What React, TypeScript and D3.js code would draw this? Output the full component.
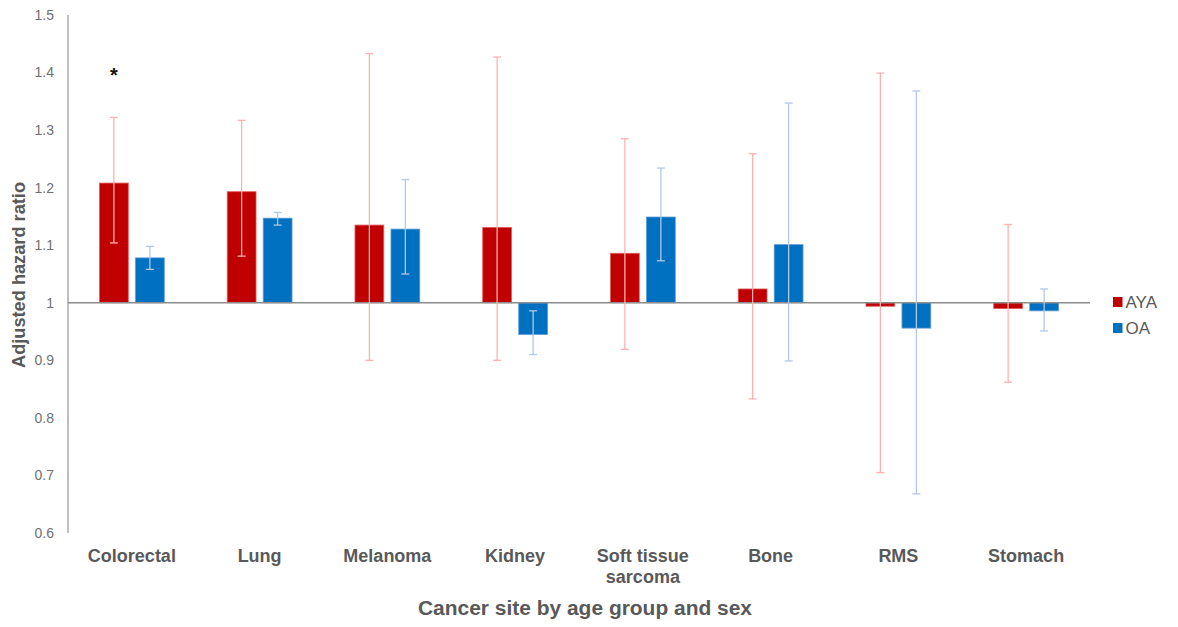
import React from "react";
import * as d3 from "d3";

// Adjusted hazard ratios by cancer site, AYA vs OA, with 95% CI
const categories = ["Colorectal", "Lung", "Melanoma", "Kidney", "Soft tissue|sarcoma", "Bone", "RMS", "Stomach"];
const series = ["AYA", "OA"];
const ayaValues = [1.208, 1.193, 1.135, 1.131, 1.086, 1.024, 0.994, 0.99];
const ayaLow = [1.104, 1.081, 0.9, 0.9, 0.919, 0.833, 0.705, 0.862];
const ayaHigh = [1.322, 1.317, 1.433, 1.427, 1.285, 1.259, 1.399, 1.136];
const oaValues = [1.078, 1.147, 1.128, 0.945, 1.149, 1.101, 0.956, 0.986];
const oaLow = [1.058, 1.135, 1.05, 0.91, 1.073, 0.899, 0.668, 0.951];
const oaHigh = [1.098, 1.157, 1.214, 0.986, 1.234, 1.347, 1.368, 1.024];
const yTicks = [0.6, 0.7, 0.8, 0.9, 1, 1.1, 1.2, 1.3, 1.4, 1.5];
const significant = ["Colorectal"];

const W = 1178;
const H = 627;
const left = 68;
const right = 1090;
const top = 15;
const bottom = 533;

const barFill = { AYA: "#c00000", OA: "#0070c0" };
const barEdge = { AYA: "#e35b5b", OA: "#5b9bd5" };
const errColor = { AYA: "#ffb0b0", OA: "#b4c7e7" };

const font = "'Liberation Sans', Arial, sans-serif";

export default function App() {
  const x = d3.scaleBand().domain(categories).range([left, right]).padding(0);
  const inner = d3.scaleBand().domain(series).range([-32.4, 32.4]).paddingInner(0.2);
  const y = d3.scaleLinear().domain([0.6, 1.5]).range([bottom, top]);

  const rows = categories.map((c, i) => ({
    cat: c,
    AYA: { v: ayaValues[i], lo: ayaLow[i], hi: ayaHigh[i] },
    OA: { v: oaValues[i], lo: oaLow[i], hi: oaHigh[i] },
  }));

  const bw = inner.bandwidth();
  const cap = 4;

  return (
    <div style={{ margin: -8 }}>
      <svg width={W} height={H} style={{ display: "block", background: "#fff" }} fontFamily={font}>
        {/* bars */}
        {rows.map((r) =>
          series.map((s) => {
            const d = r[s];
            const cx = x(r.cat) + x.bandwidth() / 2 + inner(s);
            const y0 = y(1);
            const y1 = y(d.v);
            return (
              <rect
                key={r.cat + s}
                x={cx}
                y={Math.min(y0, y1)}
                width={bw}
                height={Math.abs(y1 - y0)}
                fill={barFill[s]}
                stroke={barEdge[s]}
                strokeWidth={0.8}
              />
            );
          })
        )}

        {/* baseline at HR = 1 */}
        <line x1={left} x2={right} y1={y(1)} y2={y(1)} stroke="#8c8c8c" strokeWidth={1.5} />

        {/* error bars */}
        {rows.map((r) =>
          series.map((s) => {
            const d = r[s];
            const mx = x(r.cat) + x.bandwidth() / 2 + inner(s) + bw / 2;
            return (
              <g key={"e" + r.cat + s} stroke={errColor[s]} strokeWidth={1.3}>
                <line x1={mx} x2={mx} y1={y(d.lo)} y2={y(d.hi)} />
                <line x1={mx - cap} x2={mx + cap} y1={y(d.lo)} y2={y(d.lo)} />
                <line x1={mx - cap} x2={mx + cap} y1={y(d.hi)} y2={y(d.hi)} />
              </g>
            );
          })
        )}

        {/* significance marker */}
        {significant.map((c) => {
          const mx = x(c) + x.bandwidth() / 2 + inner("AYA") + bw / 2;
          return (
            <text key={"s" + c} x={mx} y={y(1.4) + 9} textAnchor="middle" fontSize={20} fontWeight="bold" fill="#111">
              *
            </text>
          );
        })}

        {/* y axis */}
        <line x1={left} x2={left} y1={top} y2={bottom} stroke="#7f7f7f" strokeWidth={1} />
        {yTicks.map((t) => (
          <text key={t} x={54} y={y(t)} dy="0.35em" textAnchor="end" fontSize={14} fill="#707070">
            {String(t)}
          </text>
        ))}
        <text
          transform={`translate(25,${275}) rotate(-90)`}
          textAnchor="middle"
          fontSize={18}
          fontWeight="bold"
          fill="#595959"
          textLength={186}
          lengthAdjust="spacingAndGlyphs"
        >
          Adjusted hazard ratio
        </text>

        {/* x labels */}
        {categories.map((c) => {
          const lines = c.split("|");
          const cx = x(c) + x.bandwidth() / 2;
          return (
            <text key={"x" + c} x={cx} y={562} textAnchor="middle" fontSize={18} fontWeight="bold" fill="#595959">
              {lines.map((l, i) => (
                <tspan key={l} x={cx} dy={i === 0 ? 0 : 21}>
                  {l}
                </tspan>
              ))}
            </text>
          );
        })}
        <text
          x={585}
          y={615}
          textAnchor="middle"
          fontSize={20}
          fontWeight="bold"
          fill="#595959"
          textLength={334}
          lengthAdjust="spacingAndGlyphs"
        >
          Cancer site by age group and sex
        </text>

        {/* legend */}
        {series.map((s, i) => (
          <g key={"l" + s} transform={`translate(1113,${297 + i * 26})`}>
            <rect width={9.5} height={10} fill={barFill[s]} />
            <text x={12.5} y={5} dy="0.36em" fontSize={17} fill="#595959">
              {s}
            </text>
          </g>
        ))}
      </svg>
    </div>
  );
}
